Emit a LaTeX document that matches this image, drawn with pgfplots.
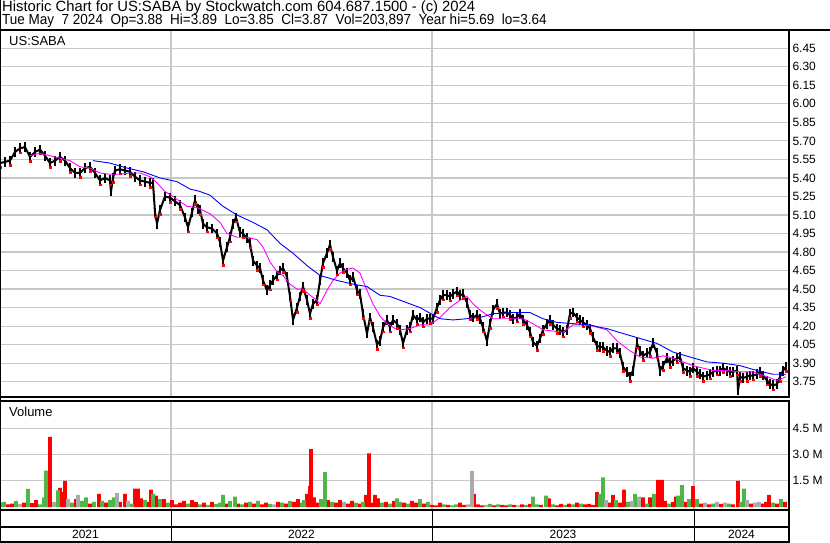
\documentclass[border=0pt]{standalone}
\usepackage{pgfplots}
\usepackage{pgfplotstable}
\pgfplotsset{compat=1.18}
\usepackage{fontspec}
\setmainfont{Liberation Sans}

\definecolor{gridgray}{RGB}{200,200,200}
\definecolor{volred}{RGB}{255,0,0}
\definecolor{volgreen}{RGB}{78,182,72}
\definecolor{volgray}{RGB}{170,170,170}
\definecolor{maline}{RGB}{255,0,255}
\definecolor{maslow}{RGB}{0,0,255}

% x = bar position (one unit per pixel column of the original chart)
\pgfplotstableread{
x y
0 5.52
5 5.53
10 5.54
15 5.61
20 5.64
25 5.65
30 5.57
35 5.61
40 5.63
45 5.58
50 5.52
55 5.54
60 5.57
65 5.54
70 5.48
75 5.44
80 5.44
85 5.48
90 5.49
95 5.44
100 5.38
105 5.40
110 5.38
111 5.29
113 5.40
115 5.46
120 5.47
125 5.46
130 5.45
135 5.41
140 5.38
145 5.37
150 5.36
153 5.36
155 5.12
157 5.03
160 5.14
165 5.25
170 5.24
175 5.21
180 5.18
185 5.08
188 5.00
192 5.12
195 5.22
198 5.15
200 5.14
203 5.03
207 5.00
212 4.99
217 4.95
220 4.88
223 4.73
227 4.84
230 4.92
233 5.03
236 5.08
240 4.96
243 4.95
247 4.91
250 4.87
253 4.73
257 4.69
260 4.67
263 4.57
267 4.49
270 4.53
273 4.57
277 4.61
280 4.65
283 4.67
287 4.60
290 4.44
293 4.25
297 4.35
300 4.44
303 4.52
307 4.41
310 4.30
313 4.38
317 4.41
320 4.57
323 4.71
327 4.79
330 4.86
333 4.76
337 4.65
340 4.71
343 4.67
347 4.63
350 4.57
353 4.60
357 4.49
360 4.46
363 4.30
367 4.14
370 4.27
373 4.19
377 4.05
380 4.08
383 4.19
387 4.25
390 4.19
393 4.25
397 4.22
400 4.17
403 4.06
407 4.17
410 4.19
413 4.29
417 4.25
420 4.27
423 4.23
427 4.26
430 4.26
433 4.26
437 4.35
440 4.41
443 4.45
447 4.45
450 4.44
453 4.46
457 4.48
460 4.45
463 4.46
467 4.39
470 4.29
473 4.27
477 4.29
480 4.26
483 4.19
487 4.08
490 4.22
493 4.33
497 4.38
500 4.30
503 4.31
507 4.31
510 4.29
513 4.26
517 4.27
520 4.30
523 4.25
527 4.21
530 4.15
533 4.07
537 4.04
540 4.10
543 4.17
547 4.22
550 4.25
553 4.21
557 4.18
560 4.17
563 4.15
567 4.17
570 4.30
573 4.31
577 4.27
580 4.25
583 4.23
587 4.21
590 4.18
593 4.11
597 4.04
600 4.03
603 4.03
607 4.00
610 3.99
613 4.02
617 4.02
620 3.98
623 3.87
627 3.83
630 3.79
633 3.84
637 4.06
640 4.00
643 3.96
647 3.98
650 3.99
653 4.06
657 3.98
660 3.84
663 3.88
667 3.94
670 3.90
673 3.92
677 3.94
680 3.95
683 3.86
687 3.84
690 3.83
693 3.86
697 3.83
700 3.81
703 3.79
707 3.80
710 3.81
713 3.83
717 3.84
720 3.84
723 3.86
727 3.84
730 3.83
733 3.83
737 3.84
738 3.68
740 3.79
743 3.78
747 3.79
750 3.80
753 3.80
757 3.81
760 3.83
763 3.80
767 3.76
770 3.73
773 3.72
777 3.73
780 3.79
783 3.84
786 3.87
}\price

\pgfplotstableread{
x y
30 5.58
40 5.60
50 5.58
60 5.56
70 5.54
80 5.49
90 5.48
100 5.44
110 5.43
120 5.43
130 5.44
140 5.44
150 5.41
157 5.36
165 5.29
173 5.25
180 5.21
187 5.17
197 5.16
210 5.11
220 5.04
227 4.95
237 4.92
247 4.92
257 4.90
263 4.84
270 4.72
277 4.64
283 4.61
290 4.54
297 4.50
303 4.50
310 4.45
317 4.41
320 4.38
327 4.49
333 4.57
340 4.63
347 4.66
353 4.67
360 4.63
367 4.49
373 4.38
380 4.28
387 4.22
395 4.18
400 4.17
410 4.18
420 4.21
430 4.21
440 4.27
450 4.35
460 4.41
467 4.44
473 4.38
480 4.33
487 4.29
493 4.26
503 4.26
513 4.26
523 4.26
533 4.22
543 4.17
553 4.16
563 4.15
573 4.21
583 4.21
593 4.20
607 4.17
617 4.08
630 4.00
640 3.95
653 3.94
663 3.96
673 3.94
683 3.91
693 3.88
703 3.86
713 3.84
727 3.84
740 3.83
753 3.83
767 3.79
777 3.76
786 3.79
}\mafast

\pgfplotstableread{
x y
93 5.54
110 5.52
127 5.48
143 5.45
160 5.40
177 5.37
190 5.31
200 5.29
210 5.26
223 5.17
237 5.10
253 5.04
267 4.98
280 4.87
293 4.79
307 4.69
320 4.61
337 4.57
353 4.54
367 4.52
380 4.45
390 4.44
400 4.41
420 4.35
440 4.26
453 4.25
467 4.26
480 4.27
493 4.30
513 4.31
530 4.31
543 4.26
557 4.23
573 4.22
590 4.21
600 4.19
607 4.18
623 4.14
640 4.10
657 4.06
673 3.99
690 3.95
707 3.91
723 3.90
740 3.88
757 3.84
773 3.81
786 3.81
}\maslowtab

\begin{document}
\begin{tikzpicture}[x=1pt,y=1pt]
\useasboundingbox (0,0) rectangle (830,543);

% header
\node[anchor=base west, inner sep=0, font=\fontsize{14.8}{16}\selectfont] at (2,531)
  {Historic Chart for US:SABA by Stockwatch.com 604.687.1500 - (c) 2024};
\node[anchor=base west, inner sep=0, xscale=0.925, font=\fontsize{14.6}{16}\selectfont] at (2,518)
  {Tue May~~7 2024~~Op=3.88~~Hi=3.89~~Lo=3.85~~Cl=3.87~~Vol=203,897~~Year hi=5.69~~lo=3.64};
\draw[line width=2pt] (0,513) -- (830,513);

% price panel
\begin{axis}[
  at={(0pt,146pt)}, anchor=south west,
  scale only axis, width=789pt, height=367pt,
  xmin=0, xmax=789, ymin=3.626, ymax=6.598,
  axis line style={line width=2pt},
  xtick={171,432,694}, xticklabels={},
  ytick={3.75,3.90,4.05,4.20,4.35,4.50,4.65,4.80,4.95,5.10,5.25,5.40,5.55,5.70,5.85,6.00,6.15,6.30,6.45},
  ytick pos=right, yticklabel pos=right,
  major tick length=0pt,
  xmajorgrids, ymajorgrids,
  grid style={gridgray, line width=1.2pt},
  /pgf/number format/assume math mode=true,
  yticklabel style={font=\fontsize{12}{13}\selectfont,
    /pgf/number format/fixed, /pgf/number format/fixed zerofill,
    /pgf/number format/precision=2},
  clip=true,
]
\addplot[black, line width=2pt, line join=round,
  error bars/.cd, y dir=both, y fixed=0.04, error mark=none,
  error bar style={line width=1.8pt, black}] table {\price};
\addplot[only marks, mark=square*, mark size=0.8pt, red, each nth point=2,
  filter discard warning=false] table [y expr=\thisrow{y}-0.035] {\price};
\addplot[maline, line width=0.9pt] table {\mafast};
\addplot[maslow, line width=0.9pt] table {\maslowtab};
\end{axis}
\node[anchor=base west, inner sep=0, font=\fontsize{13}{14}\selectfont] at (9,497) {US:SABA};

% volume panel
\begin{axis}[
  at={(0pt,33pt)}, anchor=south west,
  scale only axis, width=789pt, height=109pt,
  xmin=0, xmax=789, ymin=-0.171, ymax=6.057,
  axis line style={line width=2pt},
  xtick={171,432,694}, xticklabels={},
  ytick={1.5,3.0,4.5}, yticklabels={1.5 M,3.0 M,4.5 M},
  ytick pos=right, yticklabel pos=right,
  major tick length=0pt,
  xmajorgrids, ymajorgrids,
  grid style={gridgray, line width=1.2pt},
  yticklabel style={font=\fontsize{12}{13}\selectfont},
  ybar, bar width=3.6pt,
  every axis plot/.append style={bar shift=0pt, draw=none},
]
\addplot[fill=volred] coordinates {
(8,0.15) (12,0.20) (24,0.25) (32,0.22) (36,0.40) (48,0.98) (50,4.00) (60,1.10) (63,0.85) (65,1.50)
(76,0.45) (90,0.20) (99,0.75) (106,0.25) (120,0.30) (125,0.75) (135,1.05) (138,1.05) (141,0.50)
(148,0.30) (151,1.00) (156,0.65) (164,0.45) (172,0.40) (176,0.15) (180,0.25) (184,0.35) (192,0.40)
(196,0.30) (204,0.25) (212,0.30) (226,0.20) (238,0.20) (246,0.25) (254,0.20) (262,0.15) (266,0.25)
(278,0.30) (286,0.20) (294,0.30) (298,0.45) (307,0.75) (310,1.20) (311,3.30) (314,0.55) (318,0.25)
(328,0.40) (336,0.25) (340,0.40) (348,0.20) (352,0.35) (360,0.20) (366,0.70) (369,3.06) (372,0.25)
(375,0.70) (378,0.50) (386,0.30) (394,0.35) (404,0.25) (412,0.35) (416,0.25) (424,0.20) (432,0.12)
(436,0.10) (440,0.25) (448,0.12) (460,0.25) (464,0.12) (474,0.75) (478,0.15) (482,0.10) (494,0.10)
(502,0.12) (506,0.10) (514,0.12) (522,0.15) (530,0.18) (541,0.12) (549,0.50) (557,0.10) (561,0.18)
(569,0.20) (577,0.25) (585,0.15) (589,0.18) (593,0.12) (597,0.85) (609,0.25) (613,0.70) (620,0.25)
(624,1.00) (643,0.55) (650,0.55) (658,1.55) (662,1.55) (665,0.35) (673,0.30) (676,0.60) (685,0.30)
(693,1.20) (701,0.20) (709,0.15) (721,0.18) (733,0.15) (738,1.50) (751,0.20) (763,0.20) (766,0.30)
(769,0.70) (777,0.20) (785,0.30)
};
\addplot[fill=volgreen] coordinates {
(0,0.25) (4,0.30) (16,0.35) (28,1.04) (40,0.15) (44,0.55) (46,2.08) (58,0.95) (72,0.25) (82,0.35)
(86,0.55) (94,0.30) (102,0.35) (110,0.40) (114,0.55) (132,0.20) (145,0.40) (153,0.75) (160,0.45)
(168,0.25) (188,0.20) (200,0.15) (208,0.12) (216,0.18) (220,0.25) (223,0.70) (230,0.35) (235,0.60)
(242,0.15) (250,0.30) (258,0.35) (270,0.18) (282,0.25) (290,0.35) (302,0.25) (304,0.40) (321,0.45)
(325,2.00) (332,0.30) (356,0.25) (363,0.30) (382,0.25) (390,0.20) (397,0.50) (400,0.30) (408,0.20)
(420,0.45) (428,0.30) (444,0.15) (452,0.10) (456,0.15) (490,0.18) (498,0.15) (510,0.15) (526,0.12)
(533,0.60) (537,0.15) (546,0.65) (553,0.15) (565,0.12) (573,0.15) (581,0.20) (600,0.75) (603,1.70)
(616,0.40) (628,0.30) (635,0.75) (647,0.20) (654,0.75) (669,0.20) (678,0.65) (682,1.25) (689,0.45)
(697,0.45) (713,0.20) (729,0.20) (741,0.30) (744,1.05) (773,0.25) (781,0.45)
};
\addplot[fill=volgray] coordinates {
(20,0.18) (54,0.30) (68,0.45) (78,0.70) (117,0.80) (128,0.35) (274,0.15) (344,0.30) (468,0.15)
(472,2.07) (486,0.12) (518,0.10) (606,0.40) (632,0.35) (639,0.60) (705,0.25) (717,0.30) (725,0.25)
(747,0.40) (755,0.25) (759,0.30)
};
\end{axis}
\node[anchor=base west, inner sep=0, font=\fontsize{13}{14}\selectfont] at (9,126) {Volume};

% date strip
\draw[line width=2pt] (0,16) -- (789,16);
\draw[line width=2pt] (0,1) -- (789,1);
\draw[line width=2pt] (0,0) -- (0,543);
\draw[line width=2pt] (789,0) -- (789,33);
\foreach \xx in {171,432,694} \draw[line width=1pt] (\xx,1) -- (\xx,33);
\foreach \xx/\yy in {85.5/2021,301.5/2022,563/2023,741.5/2024}
  \node[font=\fontsize{12}{14}\selectfont, inner sep=0] at (\xx,8.5) {\yy};
\end{tikzpicture}
\end{document}
